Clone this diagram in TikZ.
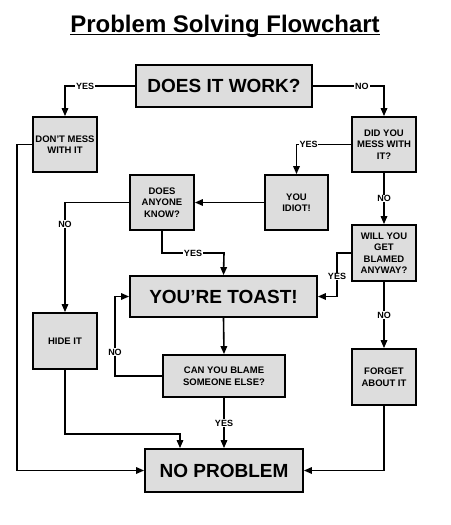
\documentclass[tikz,border=0pt]{standalone}
\usepackage{fontspec}
\setmainfont{Liberation Sans}
\usetikzlibrary{arrows.meta,calc}
\definecolor{boxgray}{RGB}{221,221,221}
\tikzset{
  box/.style={draw=black, line width=1.8pt, fill=boxgray, align=center, inner sep=1pt,
    font=\fontsize{9.5}{11.5}\selectfont\bfseries},
  bigbox/.style={box, font=\fontsize{19}{22}\selectfont\bfseries},
  smallbox/.style={box, minimum width=64pt, minimum height=55pt},
  arr/.style={line width=1.6pt, -{Triangle[length=8pt,width=6.5pt]}},
  ln/.style={line width=1.6pt},
  lbl/.style={fill=white, inner sep=0.8pt, font=\fontsize{9}{10}\selectfont\bfseries},
}
\begin{document}
\begin{tikzpicture}[x=1pt,y=-1pt]
\useasboundingbox (0,0) rectangle (450,525);
\fill[white] (0,0) rectangle (450,525);

% title
\node[anchor=base, inner sep=0pt, font=\fontsize{24}{28}\selectfont\bfseries] (title) at (225,32) {Problem Solving Flowchart};
\draw[line width=1.8pt] ([yshift=-2.5pt]title.base west) -- ([yshift=-2.5pt]title.base east);

% boxes
\node[bigbox, minimum width=176pt, minimum height=42pt] (work) at (224,86) {DOES IT WORK?};
\node[smallbox] (dont) at (65,144.5) {DON’T MESS\\WITH IT};
\node[smallbox] (didmess) at (384,144.5) {DID YOU\\MESS WITH\\IT?};
\node[smallbox, minimum width=63pt] (idiot) at (296.5,202.5) {YOU\\IDIOT!};
\node[smallbox] (anyone) at (162,202.5) {DOES\\ANYONE\\KNOW?};
\node[smallbox, minimum height=56pt] (blamed) at (384,253) {WILL YOU\\GET\\BLAMED\\ANYWAY?};
\node[bigbox, minimum width=187pt, minimum height=41pt] (toast) at (223.5,296.5) {YOU’RE TOAST!};
\node[smallbox, minimum height=56pt] (hide) at (65,341) {HIDE IT};
\node[box, minimum width=122pt, minimum height=42pt] (canblame) at (224,376) {CAN YOU BLAME\\SOMEONE ELSE?};
\node[smallbox, minimum height=56pt] (forget) at (384,377) {FORGET\\ABOUT IT};
\node[bigbox, minimum width=158pt, minimum height=43pt] (noprob) at (224,470.5) {NO PROBLEM};

% helper coordinates
\coordinate (c1) at (224,253);
\coordinate (c2) at (337,253);
\coordinate (c3) at (115,376);
\coordinate (c4) at (180,434);
\coordinate (c5) at (17,144.5);

% connectors
\draw[arr] (work.west) -| node[lbl,pos=0.357]{YES} (dont.north);
\draw[arr] (work.east) -| node[lbl,pos=0.345]{NO} (didmess.north);
\draw[arr] (didmess.west) -| node[lbl,pos=0.39]{YES} (idiot.north);
\draw[arr] (idiot.west) -- (anyone.east);
\draw[arr] (didmess.south) -- node[lbl]{NO} (blamed.north);
\draw[arr] (anyone.west) -| node[lbl,pos=0.6]{NO} (hide.north);
\draw[arr] (anyone.south) |- node[lbl,pos=0.75]{YES} (c1) -- (toast.north);
\draw[arr] (blamed.west) -- (c2) |- node[lbl,pos=0.27]{YES} (toast.east);
\draw[arr] (blamed.south) -- node[lbl]{NO} (forget.north);
\draw[arr] (toast.south) -- (canblame.north);
\draw[arr] (canblame.west) -- (c3) |- node[lbl,pos=0.15]{NO} (toast.west);
\draw[arr] (canblame.south) -- node[lbl]{YES} (noprob.north);
\draw[arr] (hide.south) |- (c4) -- (c4 |- noprob.north);
\draw[arr] (dont.west) -- (c5) |- (noprob.west);
\draw[arr] (forget.south) |- (noprob.east);
\end{tikzpicture}
\end{document}
